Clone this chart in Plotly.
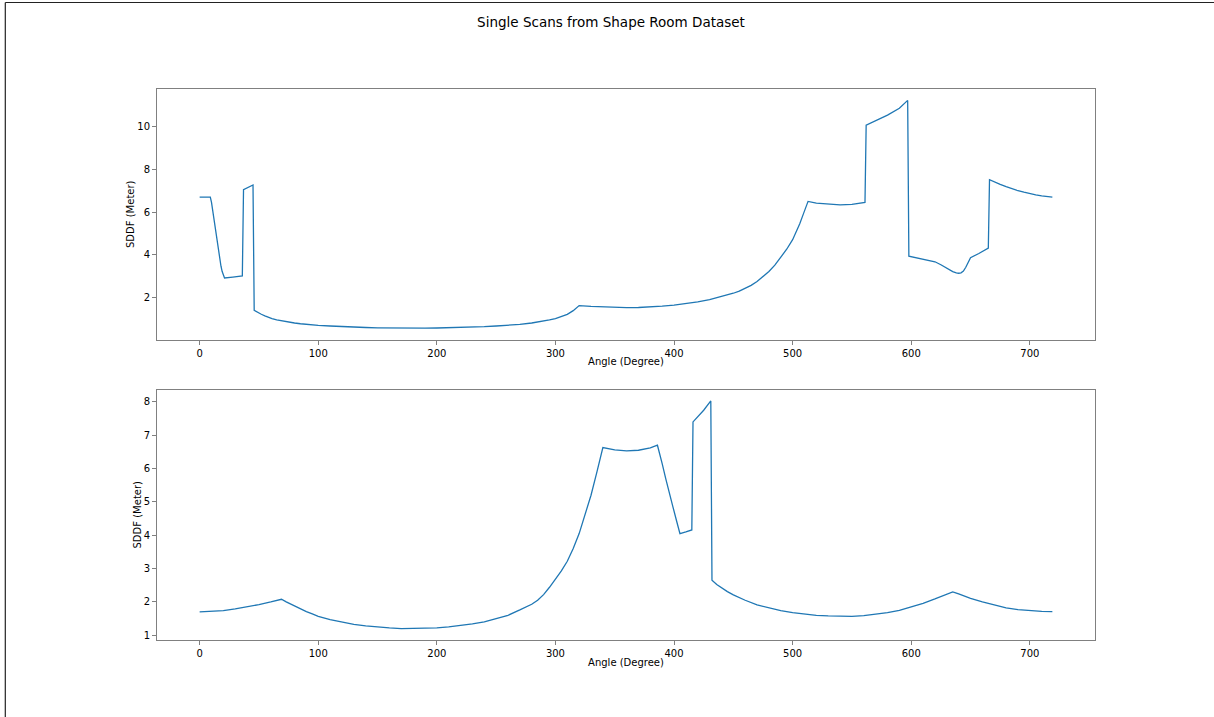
import plotly.graph_objects as go
from plotly.subplots import make_subplots

# ---- Data (angle index, SDDF in meters) ----
top_angle = [0, 5, 9, 10, 11, 12, 13, 14, 15, 16, 17, 18, 19, 20, 21, 28, 36, 37, 41, 45,
             46, 48, 50, 52, 55, 58, 61, 65, 70, 75, 80, 85, 90, 95, 100, 110, 120, 130, 140,
             150, 160, 170, 180, 190, 200, 210, 220, 230, 240, 250, 260, 270, 280, 285, 290,
             295, 300, 305, 310, 315, 320, 330, 340, 350, 360, 370, 380, 390, 400, 410, 420,
             430, 440, 450, 455, 460, 465, 470, 475, 480, 485, 490, 495, 500, 503, 506, 509,
             511, 513, 520, 530, 540, 550, 561, 562, 570, 580, 590, 597, 598, 610, 620, 625,
             630, 635, 638, 640, 642, 644, 646, 648, 650, 657, 665, 666, 670, 675, 680, 685,
             690, 695, 700, 705, 710, 715, 719]
top_sddf = [6.70, 6.70, 6.70, 6.45, 6.05, 5.65, 5.25, 4.85, 4.45, 4.08, 3.75, 3.45, 3.20, 3.02,
            2.90, 2.94, 2.99, 7.05, 7.15, 7.27, 1.38, 1.31, 1.25, 1.19, 1.12, 1.05, 0.99, 0.93,
            0.87, 0.82, 0.78, 0.745, 0.715, 0.69, 0.67, 0.64, 0.61, 0.585, 0.57, 0.555, 0.545,
            0.54, 0.54, 0.54, 0.545, 0.555, 0.57, 0.585, 0.61, 0.64, 0.67, 0.715, 0.78, 0.82,
            0.87, 0.93, 0.99, 1.08, 1.19, 1.36, 1.60, 1.56, 1.53, 1.51, 1.50, 1.51, 1.53, 1.57,
            1.62, 1.69, 1.77, 1.88, 2.02, 2.18, 2.28, 2.40, 2.55, 2.73, 2.95, 3.20, 3.50, 3.85,
            4.25, 4.70, 5.05, 5.45, 5.90, 6.20, 6.50, 6.42, 6.37, 6.34, 6.36, 6.45, 10.08, 10.28,
            10.56, 10.88, 11.25, 3.92, 3.78, 3.66, 3.52, 3.35, 3.20, 3.14, 3.12, 3.14, 3.22, 3.40,
            3.65, 3.85, 4.05, 4.30, 7.52, 7.41, 7.30, 7.19, 7.09, 7.00, 6.93, 6.86, 6.81, 6.76,
            6.72, 6.70]

bot_angle = [0, 10, 20, 30, 40, 50, 60, 65, 69, 73, 77, 80, 85, 90, 95, 100, 110, 120, 130,
             140, 150, 160, 170, 180, 190, 200, 210, 220, 230, 240, 250, 260, 270, 275, 280,
             285, 290, 295, 300, 305, 310, 315, 320, 325, 330, 335, 340, 350, 360, 370, 380,
             386, 388, 390, 393, 396, 399, 402, 405, 410, 415, 416, 420, 425, 431, 432, 436,
             440, 445, 450, 455, 460, 470, 480, 490, 500, 510, 520, 530, 540, 550, 560, 570,
             580, 590, 600, 610, 620, 630, 635, 640, 645, 650, 660, 670, 680, 690, 700, 710, 719]
bot_sddf = [1.70, 1.71, 1.74, 1.79, 1.85, 1.92, 2.00, 2.04, 2.08, 2.00, 1.93, 1.87, 1.79, 1.71,
            1.64, 1.57, 1.47, 1.39, 1.33, 1.28, 1.24, 1.22, 1.20, 1.20, 1.20, 1.22, 1.25, 1.29,
            1.34, 1.40, 1.49, 1.60, 1.76, 1.84, 1.93, 2.05, 2.22, 2.44, 2.68, 2.93, 3.22, 3.60,
            4.05, 4.60, 5.20, 5.90, 6.63, 6.56, 6.53, 6.55, 6.62, 6.70, 6.45, 6.15, 5.70, 5.25,
            4.86, 4.45, 4.05, 4.10, 4.16, 7.40, 7.55, 7.75, 8.03, 2.65, 2.52, 2.42, 2.31, 2.21,
            2.12, 2.05, 1.91, 1.82, 1.74, 1.68, 1.63, 1.60, 1.58, 1.57, 1.57, 1.59, 1.63, 1.68,
            1.75, 1.85, 1.96, 2.09, 2.23, 2.30, 2.24, 2.17, 2.11, 2.00, 1.90, 1.82, 1.77, 1.74,
            1.72, 1.71]

x_ticks = [0, 100, 200, 300, 400, 500, 600, 700]
top_y_ticks = [2, 4, 6, 8, 10]
bot_y_ticks = [1, 2, 3, 4, 5, 6, 7, 8]

title_text = "Single Scans from Shape Room Dataset"
x_label = "Angle (Degree)"
y_label = "SDDF (Meter)"

# ---- Figure ----
W, H = 1214, 717
ML, MR, MT, MB = 157, 119, 89, 77
PW, PH = W - ML - MR, H - MT - MB

fig = make_subplots(rows=2, cols=1, vertical_spacing=50 / PH)
line_color = "#1f77b4"
fig.add_trace(go.Scatter(x=top_angle, y=top_sddf, mode="lines",
                         line=dict(color=line_color, width=1.3), showlegend=False), row=1, col=1)
fig.add_trace(go.Scatter(x=bot_angle, y=bot_sddf, mode="lines",
                         line=dict(color=line_color, width=1.3), showlegend=False), row=2, col=1)

font_family = "DejaVu Sans"
spine = "#808080"
axis_common = dict(showgrid=False, zeroline=False, showline=True, linecolor=spine, linewidth=1,
                   mirror=True, ticks="outside", ticklen=4, tickwidth=1, tickcolor=spine,
                   tickfont=dict(family=font_family, size=10, color="#000000"))


def data_range(v):
    lo, hi = min(v), max(v)
    pad = 0.05 * (hi - lo)
    return [lo - pad, hi + pad]


xr = data_range(top_angle)
for r in (1, 2):
    fig.update_xaxes(range=xr, tickvals=x_ticks, row=r, col=1, **axis_common,
                     title=dict(text=x_label, font=dict(family=font_family, size=10, color="#000"),
                                standoff=0))
fig.update_yaxes(range=data_range(top_sddf), tickvals=top_y_ticks, row=1, col=1, **axis_common,
                 title=dict(text=y_label, font=dict(family=font_family, size=10, color="#000"),
                            standoff=0))
fig.update_yaxes(range=data_range(bot_sddf), tickvals=bot_y_ticks, row=2, col=1, **axis_common,
                 title=dict(text=y_label, font=dict(family=font_family, size=10, color="#000"),
                            standoff=0))

# figure border (top and left edges visible in the reference)
x_left = (5.3 - ML) / PW
x_right = (W - ML) / PW
y_top = (H - MB - 2.5) / PH
y_bot = -MB / PH
fig.add_shape(type="line", xref="paper", yref="paper", x0=x_left, x1=x_right, y0=y_top, y1=y_top,
              line=dict(color="#222222", width=1.2))
fig.add_shape(type="line", xref="paper", yref="paper", x0=x_left, x1=x_left, y0=y_top, y1=y_bot,
              line=dict(color="#222222", width=1.2))

fig.update_layout(
    width=W, height=H,
    margin=dict(l=ML, r=MR, t=MT, b=MB, autoexpand=False),
    paper_bgcolor="white", plot_bgcolor="white",
    title=dict(text=title_text, x=611 / W, xanchor="center", y=1 - 22 / H, yanchor="middle",
               font=dict(family=font_family, size=13.5, color="#000")),
    font=dict(family=font_family, color="#000"),
)

fig.write_html("out.html")
